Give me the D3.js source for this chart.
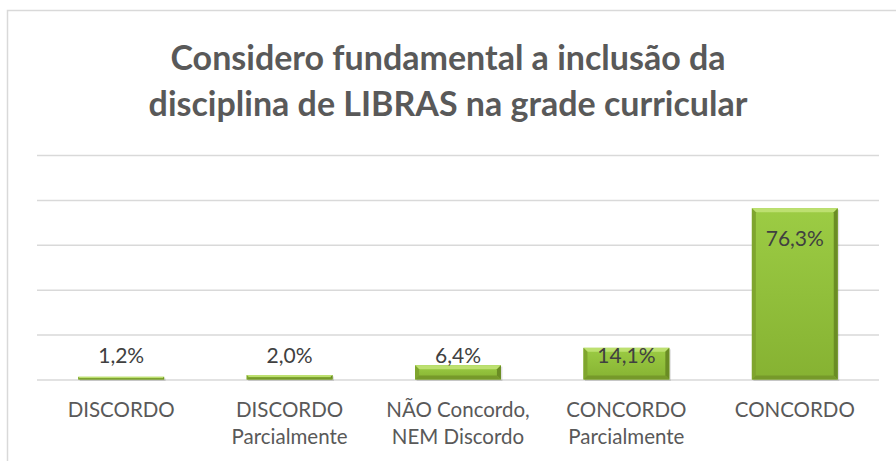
<!DOCTYPE html>
<html><head><meta charset="utf-8">
<script src="https://cdn.jsdelivr.net/npm/d3@7"></script>
<style>html,body{margin:0;padding:0;background:#fff;overflow:hidden}svg{display:block}</style>
</head><body>
<script>
const categories = ["DISCORDO", "DISCORDO Parcialmente", "NÃO Concordo, NEM Discordo", "CONCORDO Parcialmente", "CONCORDO"];
const categoryLines = [["DISCORDO"], ["DISCORDO", "Parcialmente"], ["NÃO Concordo,", "NEM Discordo"], ["CONCORDO", "Parcialmente"], ["CONCORDO"]];
const values = [0.012, 0.020, 0.064, 0.141, 0.763];
const yTicks = [0, 0.2, 0.4, 0.6, 0.8, 1.0];
const titleLines = ["Considero fundamental a inclusão da", "disciplina de LIBRAS na grade curricular"];

const W = 896, H = 461;
const svg = d3.select("body").append("svg").attr("width", W).attr("height", H);
const font = "Lato, 'Open Sans', sans-serif";
const ptBR = d3.formatLocale({decimal: ",", thousands: ".", grouping: [3], currency: ["R$", ""]});
const fmt = ptBR.format(".1%");

const defs = svg.append("defs");
const g1 = defs.append("linearGradient").attr("id", "face").attr("x1", 0).attr("y1", 0).attr("x2", 0).attr("y2", 1);
g1.append("stop").attr("offset", "0%").attr("stop-color", "#9ccc44");
g1.append("stop").attr("offset", "100%").attr("stop-color", "#86b232");

// chart frame
svg.append("path").attr("d", `M7.5,${H} V10.5 H${W}`).attr("fill", "none").attr("stroke", "#d9d9d9").attr("stroke-width", 1.5);

const x = d3.scaleBand().domain(categories).range([37, 879]).paddingInner(0.49).paddingOuter(0.245);
const y = d3.scaleLinear().domain([0, 1]).range([379.5, 155]);

// gridlines
const yAxis = d3.axisLeft(y).tickValues(yTicks).tickSize(-(879 - 37)).tickFormat("");
const ga = svg.append("g").attr("transform", "translate(37,0)").call(yAxis);
ga.select(".domain").remove();
ga.selectAll(".tick line").attr("stroke", "#d9d9d9").attr("stroke-width", 1.5);

// bars
const bars = svg.append("g").selectAll("g").data(values).join("g");
bars.each(function(v, i) {
  const sel = d3.select(this);
  const x0 = x(categories[i]), bw = x.bandwidth();
  const y0 = y(v), y1 = y(0);
  const h = y1 - y0;
  const b = Math.min(4, h / 2);
  sel.append("rect").attr("x", x0 + 1.5).attr("y", y0 + 1.5).attr("width", bw).attr("height", h).attr("fill", "#000").attr("opacity", 0.12);
  sel.append("rect").attr("x", x0).attr("y", y0).attr("width", bw).attr("height", h).attr("fill", "url(#face)");
  sel.append("path").attr("d", `M${x0},${y0} H${x0 + bw} L${x0 + bw - b},${y0 + b} H${x0 + b} Z`).attr("fill", "#bde070");
  sel.append("path").attr("d", `M${x0},${y0} L${x0 + b},${y0 + b} V${y1 - b} L${x0},${y1} Z`).attr("fill", "#7fa52e");
  sel.append("path").attr("d", `M${x0 + bw},${y0} L${x0 + bw - b},${y0 + b} V${y1 - b} L${x0 + bw},${y1} Z`).attr("fill", "#6a8c24");
  sel.append("path").attr("d", `M${x0},${y1} L${x0 + b},${y1 - b} H${x0 + bw - b} L${x0 + bw},${y1} Z`).attr("fill", "#76992a");
});

// value labels
svg.append("g").selectAll("text").data(values).join("text")
  .attr("x", (d, i) => x(categories[i]) + x.bandwidth() / 2)
  .attr("y", d => Math.min(y(d) + 30, y(0) - 24))
  .attr("dy", "0.35em")
  .attr("text-anchor", "middle")
  .attr("font-family", font).attr("font-size", 21).attr("fill", "#404040")
  .text(d => fmt(d));

// category labels
const xa = svg.append("g").selectAll("text").data(categories).join("text")
  .attr("text-anchor", "middle")
  .attr("font-family", font).attr("font-size", 20.5).attr("fill", "#595959");
xa.each(function(c, i) {
  const t = d3.select(this);
  categoryLines[i].forEach((ln, j) => {
    t.append("tspan").attr("x", x(c) + x.bandwidth() / 2).attr("y", 410 + j * 27).attr("dy", "0.35em").text(ln);
  });
});

// title
svg.append("g").selectAll("text").data(titleLines).join("text")
  .attr("x", 448).attr("y", (d, i) => 58 + i * 46).attr("dy", "0.35em")
  .attr("text-anchor", "middle")
  .attr("font-family", font).attr("font-weight", "bold").attr("font-size", 34).attr("fill", "#595959")
  .text(d => d);
</script>
</body></html>
